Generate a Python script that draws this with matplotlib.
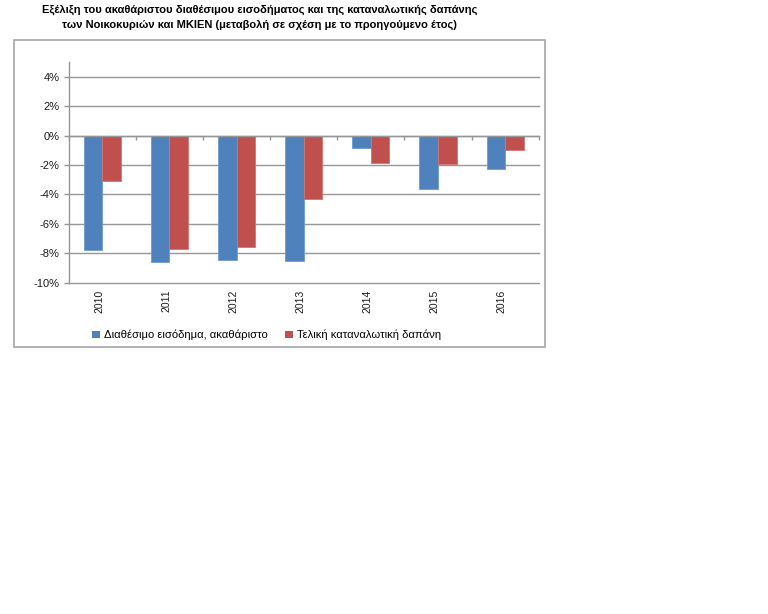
import matplotlib
matplotlib.use('Agg')
import matplotlib.pyplot as plt
import matplotlib.transforms as mtransforms
from matplotlib.patches import Rectangle, Patch
import numpy as np

plt.rcParams['font.family'] = ['Liberation Sans', 'DejaVu Sans']

# data (annual % change)
years = ['2010', '2011', '2012', '2013', '2014', '2015', '2016']
income = [-7.8, -8.6, -8.45, -8.55, -0.85, -3.6, -2.25]
spending = [-3.1, -7.7, -7.6, -4.3, -1.85, -1.95, -0.95]
series_names = ['Διαθέσιμο εισόδημα, ακαθάριστο', 'Τελική καταναλωτική δαπάνη']
title = ('Εξέλιξη του ακαθάριστου διαθέσιμου εισοδήματος και της καταναλωτικής δαπάνης\n'
         'των Νοικοκυριών και ΜΚΙΕΝ (μεταβολή σε σχέση με το προηγούμενο έτος)')
yticks = [-10, -8, -6, -4, -2, 0, 2, 4]

blue = '#4F81BD'
red = '#C0504D'
grid_col = '#969696'

fig = plt.figure(figsize=(7.68, 6.14), dpi=100)

# outer chart frame
fig.patches.append(Rectangle((14 / 768, 1 - 347 / 614), (545 - 14) / 768, (347 - 40) / 614,
                             transform=fig.transFigure, fill=False,
                             edgecolor='#A6A6A6', linewidth=1.2))

ax = fig.add_axes([0.0895, 0.5396, 0.612, 0.3595])

x = np.arange(len(years))
w = 0.277
ax.bar(x - w / 2, income, w, color=blue, edgecolor='#6F9BD1', linewidth=0.6, zorder=3)
ax.bar(x + w / 2, spending, w, color=red, edgecolor='#D37470', linewidth=0.6, zorder=3)

ax.set_xlim(-0.5, len(years) - 0.5)
ax.set_ylim(-10, 5.0)
ax.set_yticks(yticks)
ax.set_yticklabels([f'{v}%' for v in yticks], fontsize=8, color='#1a1a1a')
ax.yaxis.grid(True, color=grid_col, linewidth=1.0, zorder=0)
for gl in ax.get_ygridlines():
    gl.set_clip_on(False)
ax.tick_params(axis='y', length=3.5, width=1, color=grid_col, pad=3)

# horizontal axis sits at 0, ticks at category boundaries
for s in ['top', 'right']:
    ax.spines[s].set_visible(False)
ax.spines['left'].set_color(grid_col)
ax.spines['left'].set_linewidth(1.0)
ax.spines['bottom'].set_position(('data', 0))
ax.spines['bottom'].set_color(grid_col)
ax.spines['bottom'].set_linewidth(1.0)
ax.spines['bottom'].set_zorder(4)
ax.set_xticks(np.arange(-0.5, len(years) + 0.5, 1))
ax.set_xticklabels([])
ax.tick_params(axis='x', length=3, width=1, color=grid_col)

trans = mtransforms.blended_transform_factory(ax.transData, ax.transAxes)
for i, yr in enumerate(years):
    ax.text(i - 0.05, -0.03, yr, transform=trans, rotation=90, ha='center', va='top',
            fontsize=7.5, color='#1a1a1a')

handles = [Patch(facecolor=blue), Patch(facecolor=red)]
fig.legend(handles, series_names, loc='center', bbox_to_anchor=(0.347, 0.454), ncol=2,
           frameon=False, fontsize=8.1, handlelength=0.7, handleheight=0.7,
           handletextpad=0.3, columnspacing=1.6)

fig.text(0.338, 0.971, title, ha='center', va='center', fontsize=8, fontweight='bold',
         linespacing=1.6)

fig.savefig('out.png', dpi=100, facecolor='white')
